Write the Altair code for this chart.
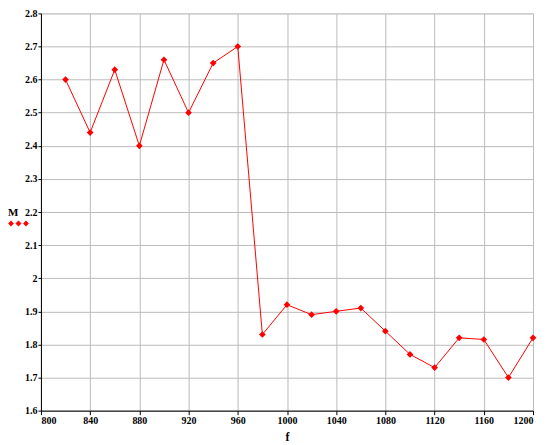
import altair as alt
import pandas as pd

f_vals = [820, 840, 860, 880, 900, 920, 940, 960, 980, 1000, 1020, 1040, 1060, 1080, 1100, 1120, 1140, 1160, 1180, 1200]
m_vals = [2.60, 2.44, 2.63, 2.40, 2.66, 2.50, 2.65, 2.70, 1.83, 1.92, 1.89, 1.90, 1.91, 1.84, 1.77, 1.73, 1.82, 1.815, 1.70, 1.82]
series = ["M"] * len(f_vals)
x_ticks = list(range(800, 1201, 40))
y_ticks = [round(1.6 + 0.1 * i, 1) for i in range(13)]

df = pd.DataFrame({"f": f_vals, "M": m_vals, "s": series})

FONT = "Liberation Serif"
RED = "#ff0000"

legend_path = ("M-0.75,-0.77L-0.48,-0.5L-0.75,-0.23L-1.02,-0.5Z "
               "M0,-0.77L0.27,-0.5L0,-0.23L-0.27,-0.5Z "
               "M0.75,-0.77L1.02,-0.5L0.75,-0.23L0.48,-0.5Z")

color = alt.Color("s:N", scale=alt.Scale(domain=["M"], range=[RED]),
                  legend=alt.Legend(title="M", orient="none", legendX=-33, legendY=194,
                                    direction="vertical", titleOrient="top",
                                    titleAlign="left", titleBaseline="top",
                                    symbolType=legend_path, symbolSize=400,
                                    symbolStrokeWidth=0.5, symbolFillColor=RED, symbolStrokeColor=RED,
                                    labelExpr="''", titleFont=FONT, titleFontSize=11,
                                    titleFontWeight="bold", titleColor="black", titlePadding=0,
                                    padding=0, symbolOffset=0))

x = alt.X("f:Q", title="f", scale=alt.Scale(domain=[800, 1200], nice=False, zero=False),
          axis=alt.Axis(values=x_ticks, format="d", labelFont=FONT, labelFontSize=10,
                        labelFontWeight="bold", labelColor="black", titleFont=FONT,
                        titleFontSize=12, titleFontWeight="bold", titleColor="black",
                        titlePadding=6, tickSize=4, tickColor="black", domainColor="black",
                        gridColor="#bbbbbb", labelPadding=1))
y = alt.Y("M:Q", title=None, scale=alt.Scale(domain=[1.6, 2.8], nice=False, zero=False),
          axis=alt.Axis(values=y_ticks, labelExpr="format(datum.value, '~g')", labelFont=FONT,
                        labelFontSize=10, labelFontWeight="bold", labelColor="black",
                        tickSize=3, tickColor="black", domainColor="black",
                        gridColor="#bbbbbb", labelPadding=1))

line = alt.Chart(df).mark_line(color=RED, strokeWidth=1).encode(x=x, y=y, color=color)
pts = alt.Chart(df).mark_point(shape="diamond", filled=True, size=45, opacity=1).encode(
    x=x, y=y, color=alt.Color("s:N", scale=alt.Scale(domain=["M"], range=[RED]), legend=None))

chart = (line + pts).properties(
    width=493, height=398,
    autosize=alt.AutoSizeParams(type="none"),
    padding={"left": 33, "top": 5, "right": 10, "bottom": 32},
).configure_view(stroke=None).configure(background="white")

chart.save("out.html", embed_options={"renderer": "svg", "actions": False})
